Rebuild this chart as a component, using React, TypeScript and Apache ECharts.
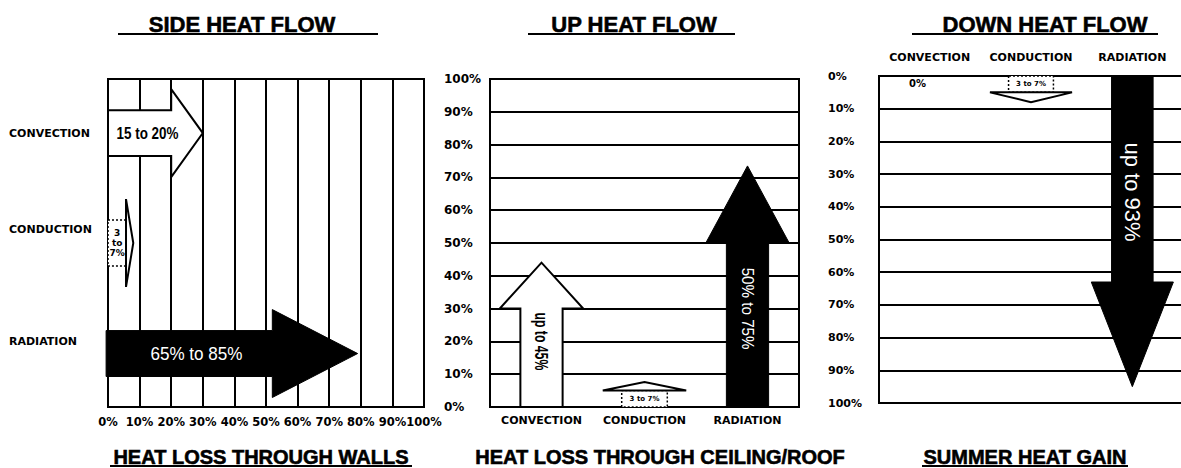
import React, { useEffect, useRef } from 'react';
import * as echarts from 'echarts';

// ---------- data ----------
const sideCategories = ['CONVECTION', 'CONDUCTION', 'RADIATION'];
const sideCategoryPos = [83.5, 54, 20];
const sideArrowCenter = [83.5, 50, 16.3];
const sideShaftEnd = [20, 5.7, 52];
const sideTip = [30, 8, 79];
const sideText = ['15 to 20%', '3\nto\n7%', '65% to 85%'];
const sideTextX = [12.5, 2.9, 28];

const upCategories = ['CONVECTION', 'CONDUCTION', 'RADIATION'];
const upShaftEnd = [30, 5, 50];
const upTip = [44, 7.6, 73.5];
const upText = ['up to 45%', '3 to 7%', '50% to 75%'];
const upTextPos = [20, 2.4, 30];

const downCategories = ['CONVECTION', 'CONDUCTION', 'RADIATION'];
const downShaftEnd = [0, 5, 63];
const downTip = [0, 8, 95];
const downText = ['0%', '3 to 7%', 'up to 93%'];
const downTextPos = [2.2, 2.4, 35.5];

const topTitles = ['SIDE HEAT FLOW', 'UP HEAT FLOW', 'DOWN HEAT FLOW'];
const bottomTitles = ['HEAT LOSS THROUGH WALLS', 'HEAT LOSS THROUGH CEILING/ROOF', 'SUMMER HEAT GAIN'];

// ---------- styles ----------
const FONT_AXIS = '"DejaVu Sans", Verdana, sans-serif';
const FONT_TITLE = '"Liberation Sans", Arial, sans-serif';

const sideKinds = ['outline', 'dashed', 'solid'];
const upKinds = ['outline', 'dashed', 'solid'];
const downKinds = ['none', 'dashed', 'solid'];

type TS = { color: string; size: number; weight: string; family: string; rotate: boolean; shift?: number; lh?: number; sx?: number };
const sideTextStyles: TS[] = [
  { color: '#000', size: 16, weight: 'bold', family: FONT_TITLE, rotate: false, sx: 0.84 },
  { color: '#000', size: 9, weight: 'bold', family: FONT_AXIS, rotate: false, lh: 10 },
  { color: '#fff', size: 18, weight: 'normal', family: FONT_TITLE, rotate: false, sx: 0.95 },
];
const upTextStyles: TS[] = [
  { color: '#000', size: 18, weight: 'bold', family: FONT_TITLE, rotate: true, sx: 0.68 },
  { color: '#000', size: 7, weight: 'bold', family: FONT_AXIS, rotate: false },
  { color: '#fff', size: 16, weight: 'normal', family: FONT_TITLE, rotate: true, sx: 0.95 },
];
const downTextStyles: TS[] = [
  { color: '#000', size: 10, weight: 'bold', family: FONT_AXIS, rotate: false, shift: -0.12 },
  { color: '#000', size: 7, weight: 'bold', family: FONT_AXIS, rotate: false },
  { color: '#fff', size: 22, weight: 'normal', family: FONT_TITLE, rotate: true },
];

function textEl(x: number, y: number, text: string, ts: TS) {
  return {
    type: 'text',
    x,
    y,
    rotation: ts.rotate ? -Math.PI / 2 : 0,
    scaleX: ts.sx || 1,
    z2: 10,
    style: {
      x: 0,
      y: 0,
      text,
      fill: ts.color,
      fontSize: ts.size,
      fontWeight: ts.weight,
      fontFamily: ts.family,
      lineHeight: ts.lh,
      align: 'center',
      verticalAlign: 'middle',
      textAlign: 'center',
      textVerticalAlign: 'middle',
    },
  };
}

const outlineStyle = { fill: '#fff', stroke: '#000', lineWidth: 2 };
const solidStyle = { fill: '#000', stroke: '#000', lineWidth: 1 };
const dashedStyle = { fill: '#fff', stroke: '#000', lineWidth: 1.5, lineDash: [2, 2] };

function sideRender(params: any, api: any) {
  const i = params.dataIndex;
  const c = sideArrowCenter[i];
  const xs = sideShaftEnd[i];
  const xt = sideTip[i];
  const S = 7;
  const H = 13.4;
  const P = (x: number, y: number) => api.coord([x, y]);
  const x0 = sideKinds[i] === 'solid' ? -0.6 : 0;
  const children: any[] = [];
  if (sideKinds[i] === 'dashed') {
    children.push({ type: 'polygon', shape: { points: [P(x0, c + S), P(xs, c + S), P(xs, c - S), P(x0, c - S)] }, style: dashedStyle });
    children.push({ type: 'polygon', shape: { points: [P(xs, c + H), P(xt, c), P(xs, c - H)] }, style: outlineStyle });
  } else {
    const pts = [P(x0, c + S), P(xs, c + S), P(xs, c + H), P(xt, c), P(xs, c - H), P(xs, c - S), P(x0, c - S)];
    children.push({ type: 'polygon', shape: { points: pts }, style: sideKinds[i] === 'solid' ? solidStyle : outlineStyle });
  }
  const tp = P(sideTextX[i], c);
  children.push(textEl(tp[0], tp[1], sideText[i], sideTextStyles[i]));
  return { type: 'group', children };
}

function makeVRender(shaftEnd: number[], tip: number[], texts: string[], textPos: number[], kinds: string[], styles: TS[]) {
  return (params: any, api: any) => {
    const i = params.dataIndex;
    const base = api.coord([i, 0]);
    const cx = base[0];
    const y0 = base[1];
    const bw = api.size([1, 0])[0];
    const sw = bw * 0.205;
    const hw = bw * 0.405;
    const children: any[] = [];
    const kind = kinds[i];
    if (kind !== 'none') {
      const ys = api.coord([i, shaftEnd[i]])[1];
      const yt = api.coord([i, tip[i]])[1];
      if (kind === 'dashed') {
        const bx = sw * 1.08;
        children.push({ type: 'polygon', shape: { points: [[cx - bx, y0], [cx - bx, ys], [cx + bx, ys], [cx + bx, y0]] }, style: dashedStyle });
        children.push({ type: 'polygon', shape: { points: [[cx - hw, ys], [cx, yt], [cx + hw, ys]] }, style: outlineStyle });
      } else {
        const pts = [[cx - sw, y0], [cx - sw, ys], [cx - hw, ys], [cx, yt], [cx + hw, ys], [cx + sw, ys], [cx + sw, y0]];
        children.push({ type: 'polygon', shape: { points: pts }, style: kind === 'solid' ? solidStyle : outlineStyle });
      }
    }
    const ts = styles[i];
    const ty = api.coord([i, textPos[i]])[1];
    children.push(textEl(cx + (ts.shift || 0) * bw, ty, texts[i], ts));
    return { type: 'group', children };
  };
}

const axisFont = { fontFamily: FONT_AXIS, fontWeight: 'bold', color: '#000' };
const gridLine = { show: true, lineStyle: { color: '#000', width: 2, type: 'solid' } };
const gridBase = { show: true, borderColor: '#000', borderWidth: 2, backgroundColor: '#fff', containLabel: false, outerBoundsMode: 'none' };

function titleText(x: number, y: number, text: string, size: number) {
  return {
    type: 'text',
    x,
    y,
    style: {
      text,
      fill: '#000',
      stroke: '#000',
      lineWidth: 0.6,
      fontSize: size,
      fontWeight: 'bold',
      fontFamily: FONT_TITLE,
      align: 'center',
      verticalAlign: 'middle',
      textAlign: 'center',
      textVerticalAlign: 'middle',
    },
  };
}
function underline(x1: number, x2: number, y: number) {
  return { type: 'line', shape: { x1, y1: y, x2, y2: y }, style: { stroke: '#000', lineWidth: 2 } };
}

export default function App() {
  const ref = useRef<HTMLDivElement>(null);
  useEffect(() => {
    if (!ref.current) return;
    const chart = echarts.init(ref.current, undefined, { renderer: 'svg' });
    const option: any = {
      animation: false,
      backgroundColor: '#fff',
      grid: [
        { ...gridBase, left: 108, top: 79, width: 316, height: 328 },
        { ...gridBase, left: 490, top: 79, width: 309, height: 328 },
        { ...gridBase, left: 879, top: 76, width: 304, height: 327 },
      ],
      xAxis: [
        {
          gridIndex: 0, type: 'value', min: 0, max: 100, interval: 10, position: 'bottom',
          axisLine: { show: false }, axisTick: { show: false },
          axisLabel: { ...axisFont, fontSize: 11.5, margin: 9, formatter: '{value}%', showMinLabel: true, showMaxLabel: true, hideOverlap: false },
          splitLine: gridLine,
        },
        {
          gridIndex: 1, type: 'category', data: upCategories, position: 'bottom',
          axisLine: { show: false }, axisTick: { show: false },
          axisLabel: { ...axisFont, fontSize: 11, margin: 8, interval: 0 },
          splitLine: { show: false },
        },
        {
          gridIndex: 2, type: 'category', data: downCategories, position: 'top',
          axisLine: { show: false }, axisTick: { show: false },
          axisLabel: { ...axisFont, fontSize: 11, margin: 13, interval: 0 },
          splitLine: { show: false },
        },
      ],
      yAxis: [
        {
          gridIndex: 0, type: 'value', min: 0, max: 100,
          axisLine: { show: false }, axisTick: { show: false }, splitLine: { show: false },
          axisLabel: {
            ...axisFont, fontSize: 11, align: 'left', margin: 99,
            customValues: sideCategoryPos,
            formatter: (v: number) => {
              const k = sideCategoryPos.indexOf(v);
              return k >= 0 ? sideCategories[k] : '';
            },
          },
        },
        {
          gridIndex: 1, type: 'value', min: 0, max: 100, interval: 10,
          axisLine: { show: false }, axisTick: { show: false },
          axisLabel: { ...axisFont, fontSize: 12, align: 'left', margin: 46, formatter: '{value}%', showMinLabel: true, showMaxLabel: true },
          splitLine: gridLine,
        },
        {
          gridIndex: 2, type: 'value', min: 0, max: 100, interval: 10, inverse: true,
          axisLine: { show: false }, axisTick: { show: false },
          axisLabel: { ...axisFont, fontSize: 11, align: 'left', margin: 51, formatter: '{value}%', padding: [5, 0, 0, 0], showMinLabel: true, showMaxLabel: true },
          splitLine: gridLine,
        },
      ],
      series: [
        {
          type: 'custom', xAxisIndex: 0, yAxisIndex: 0, z: 5, clip: false,
          data: sideCategories.map((_, i) => [sideShaftEnd[i], sideArrowCenter[i]]),
          renderItem: sideRender,
        },
        {
          type: 'custom', xAxisIndex: 1, yAxisIndex: 1, z: 5, clip: false,
          data: upCategories.map((_, i) => [i, upTip[i]]),
          renderItem: makeVRender(upShaftEnd, upTip, upText, upTextPos, upKinds, upTextStyles),
        },
        {
          type: 'custom', xAxisIndex: 2, yAxisIndex: 2, z: 5, clip: false,
          data: downCategories.map((_, i) => [i, downTip[i]]),
          renderItem: makeVRender(downShaftEnd, downTip, downText, downTextPos, downKinds, downTextStyles),
        },
      ],
      graphic: [
        titleText(242, 24, topTitles[0], 22),
        underline(118, 378, 34),
        titleText(634, 24, topTitles[1], 22),
        underline(528, 735, 34),
        titleText(1045, 24, topTitles[2], 22),
        underline(912, 1158, 34),
        titleText(261, 457, bottomTitles[0], 20),
        underline(110, 412, 466),
        titleText(660, 457, bottomTitles[1], 20),
        titleText(1025, 457, bottomTitles[2], 20),
        underline(922, 1128, 466),
      ],
    };
    chart.setOption(option);
    return () => chart.dispose();
  }, []);
  return (
    <div
      ref={ref}
      style={{ position: 'absolute', left: 0, top: 0, width: 1181, height: 468, background: '#fff' }}
    />
  );
}
